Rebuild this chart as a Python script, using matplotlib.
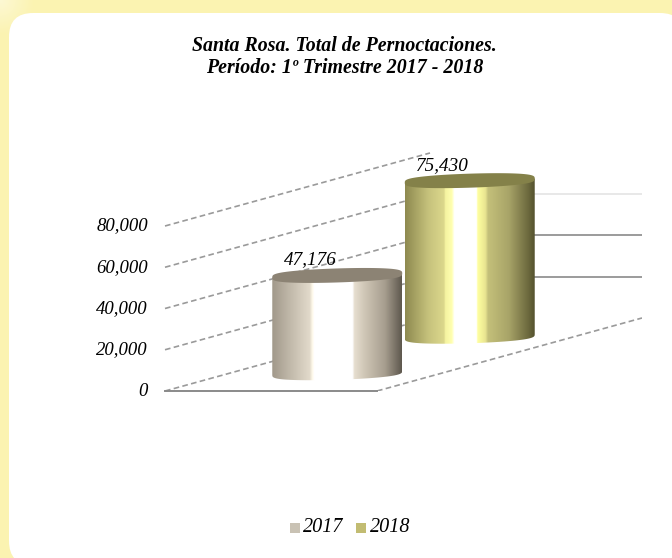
import numpy as np
import matplotlib
matplotlib.use('Agg')
import matplotlib.pyplot as plt
from matplotlib.colors import LinearSegmentedColormap
from matplotlib.patches import FancyBboxPatch, Polygon, Rectangle, PathPatch
from matplotlib.path import Path

series = ['2017', '2018']
values = [47176, 75430]
yticks = [0, 20000, 40000, 60000, 80000]
title = 'Santa Rosa. Total de Pernoctaciones.\nPeríodo: 1º Trimestre 2017 - 2018'

W, H = 672, 558
SCALE = 165 / 80000      # px per unit
DEPTH_X, DEPTH_Y = 1.25, 35400
BAR_W = 0.613
ELL = 3400
TILT = 1000
DASH = (0, (3.4, 2))

plt.rcParams['font.family'] = ['Liberation Serif', 'DejaVu Serif']

fig = plt.figure(figsize=(W / 100, H / 100), dpi=100, facecolor='#fbf3b1')

# panel behind everything, in pixel coords
bg = fig.add_axes([0, 0, 1, 1])
bg.set_xlim(0, W)
bg.set_ylim(H, 0)
bg.axis('off')
yy, xx = np.mgrid[0:40, 0:40]
glow = np.ones((40, 40, 4))
glow[..., 3] = np.clip(1 - np.hypot(xx, yy) / 34, 0, 1) * 0.45
bg.imshow(glow, extent=(0, 40, 40, 0), aspect='auto', zorder=0)
bg.add_patch(FancyBboxPatch((9, 13), 675, 552, boxstyle='round,pad=0,rounding_size=24',
                            fc='white', ec='none', zorder=1))

# plot axes: x in floor widths, y in values
x0, x1 = 165, 377
ax = fig.add_axes([x0 / W, (H - 391) / H, 477 / W, 241 / H])
ax.axis('off')
ax.patch.set_alpha(0)

# walls
for v in yticks:
    ax.plot([0, DEPTH_X], [v, v + DEPTH_Y], color='#9a9a9a', lw=1.2, ls=DASH, zorder=1,
            clip_on=False)
    ax.text(-0.08, v, f'{v:,}', ha='right', va='center', style='italic', fontsize=13.5,
            color='black')
ax.plot([1, 1 + DEPTH_X], [0, DEPTH_Y], color='#9a9a9a', lw=1.2, ls=DASH, zorder=1)
ax.plot([0, 1], [0, 0], color='#8a8a8a', lw=1.4, zorder=1, clip_on=False)
back_cols = ['#8a8a8a', '#8a8a8a', '#e4e4e4']
for v, c in zip(yticks[1:4], back_cols):
    ax.plot([DEPTH_X, 1 + DEPTH_X], [v + DEPTH_Y, v + DEPTH_Y], color=c, lw=1.2, zorder=1)

cmaps = [
    LinearSegmentedColormap.from_list('a', [(0, '#a1988a'), (.12, '#bdb5a6'), (.29, '#e2dacb'),
                                            (.31, '#fff9ea'), (.325, '#ffffff'), (.62, '#ffffff'),
                                            (.635, '#e6decf'), (.72, '#cdc4b4'), (.87, '#a79e8f'),
                                            (1, '#5e584e')]),
    LinearSegmentedColormap.from_list('b', [(0, '#8e8a50'), (.18, '#c6c27c'), (.3, '#dcd88c'),
                                            (.31, '#f5f3a0'), (.36, '#ffffb0'), (.38, '#ffffff'),
                                            (.55, '#ffffff'), (.56, '#ffffa0'), (.62, '#e8e490'),
                                            (.64, '#c4c07a'), (.8, '#a8a468'), (.95, '#6c693e'),
                                            (1, '#54522e')]),
]
top_cols = ['#8c8374', '#848149']
legend_cols = ['#c9c2b4', '#c2bc72']
label_dx = [-0.125, -0.13]

t = np.linspace(0, np.pi, 60)
for i, (v, cm, tc) in enumerate(zip(values, cmaps, top_cols)):
    depth = (i + 0.5) / 2
    cx = 0.5 + depth * DEPTH_X
    base = depth * DEPTH_Y
    left, right = cx - BAR_W / 2, cx + BAR_W / 2
    ex = BAR_W / 2 * np.cos(t)
    ey = ELL * np.sin(t) ** 0.6
    tilt = TILT * np.cos(t)
    poly = np.vstack([[left, base + v - TILT], [right, base + v + TILT],
                      np.column_stack([cx + ex, base - ey + tilt])])
    im = ax.imshow(np.linspace(0, 1, 256)[None, :], cmap=cm, aspect='auto',
                   extent=(left, right, base - ELL - TILT, base + v + TILT), zorder=3 + i)
    clip = PathPatch(Path(poly), transform=ax.transData, fc='none', ec='none')
    ax.add_patch(clip)
    im.set_clip_path(clip)
    top = np.vstack([np.column_stack([cx + ex, base + v + ey + tilt]),
                     np.column_stack([cx - ex, base + v - ey - tilt])])
    ax.add_patch(Polygon(top, closed=True, fc=tc, ec='none', zorder=3.5 + i))
    ax.text(cx + label_dx[i], base + v + ELL, f'{v:,}', ha='center', va='bottom',
            style='italic', fontsize=13.8, color='black', zorder=6)
ax.set_xlim(0, 477 / (x1 - x0))
ax.set_ylim(0, 241 / SCALE)

bg.text(344.5, 57, title, ha='center', va='center', style='italic', weight='bold', fontsize=14.3,
        linespacing=1.08, zorder=2)

# legend
for sx, tx, s, c in zip([290, 356], [303, 370], series, legend_cols):
    bg.add_patch(Rectangle((sx, 523), 10, 10, fc=c, ec='none', zorder=2))
    bg.text(tx, 528, s, ha='left', va='center', style='italic', fontsize=14.5, zorder=2)

fig.savefig('out.png', dpi=100, facecolor=fig.get_facecolor())
